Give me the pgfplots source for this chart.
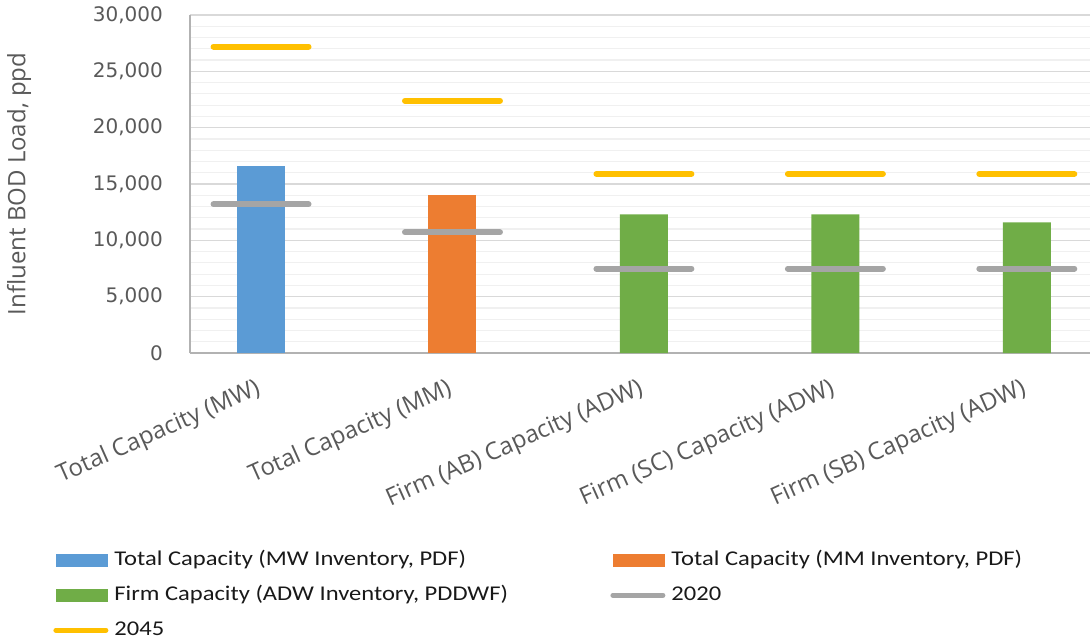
\documentclass[border=0pt]{standalone}
\usepackage{fontspec}
\setmainfont{Open Sans}
\newfontfamily\legfont[FakeStretch=1.17]{Carlito}
\newfontfamily\tickfont{DejaVu Sans}
\usepackage{pgfplots}
\pgfplotsset{compat=1.18}
\definecolor{cBlue}{HTML}{5B9BD5}
\definecolor{cOrange}{HTML}{ED7D31}
\definecolor{cGreen}{HTML}{70AD47}
\definecolor{cGray}{HTML}{A5A5A5}
\definecolor{cGold}{HTML}{FFC000}
\definecolor{txt}{HTML}{595959}

\begin{document}
\begin{tikzpicture}
\begin{axis}[
    scale only axis, width=900pt, height=338pt,
    xmin=-0.371, xmax=4.33, ymin=0, ymax=30000,
    axis x line*=bottom, axis y line*=left,
    axis line style={-, draw=black!30, line width=1.2pt},
    ytick={0,5000,...,30000}, minor y tick num=4,
    scaled y ticks=false,
    ymajorgrids, yminorgrids,
    major grid style={draw=black!15, line width=1.2pt},
    minor grid style={draw=black!6, line width=1.2pt},
    major tick length=0pt, minor tick length=0pt,
    xtick={0,1,2,3,4},
    xticklabels={Total Capacity (MW), Total Capacity (MM), Firm (AB) Capacity (ADW), Firm (SC) Capacity (ADW), Firm (SB) Capacity (ADW)},
    x tick label style={rotate=24, anchor=north east, inner sep=0pt, yshift=-19pt, xshift=-16pt,
        font=\fontsize{24}{24}\selectfont, text=txt},
    y tick label style={inner sep=0pt, xshift=-27pt, font=\tickfont\fontsize{20}{20}\selectfont, text=txt},
    /pgf/number format/.cd, 1000 sep={,}, assume math mode=true, /pgfplots/.cd,
    ylabel={Influent BOD Load, ppd},
    ylabel style={at={(axis description cs:-0.19,0.5)}, anchor=center, rotate=0,
        font=\fontsize{24}{24}\selectfont, text=txt},
    unbounded coords=jump,
    legend columns=2,
    legend cell align=left,
    legend style={at={(axis description cs:-0.152,-0.586)}, anchor=north west,
        draw=none, fill=none, inner sep=0pt,
        font=\legfont\fontsize{21}{21}\selectfont, text=black!90,
        nodes={inner sep=0pt, text height=14pt, text depth=4pt},
        row sep=17pt, column sep=6pt},
]
% bars
\addplot[ybar, bar shift=0pt, bar width=48pt, fill=cBlue, draw=none, area legend,
    legend image code/.code={\fill[cBlue] (0pt,-6.5pt) rectangle (52pt,6.5pt);}]
    coordinates {(0,16600)};
\addlegendentry{\makebox[490pt][l]{Total Capacity (MW Inventory, PDF)}}
\addplot[ybar, bar shift=0pt, bar width=48pt, fill=cOrange, draw=none, area legend,
    legend image code/.code={\fill[cOrange] (0pt,-6.5pt) rectangle (52pt,6.5pt);}]
    coordinates {(1,14000)};
\addlegendentry{Total Capacity (MM Inventory, PDF)}
\addplot[ybar, bar shift=0pt, bar width=48pt, fill=cGreen, draw=none, area legend,
    legend image code/.code={\fill[cGreen] (0pt,-6.5pt) rectangle (52pt,6.5pt);}]
    coordinates {(2,12300) (3,12300) (4,11600)};
\addlegendentry{\makebox[490pt][l]{Firm Capacity (ADW Inventory, PDDWF)}}
% 2020 projections
\addplot[cGray, line width=6pt, line cap=round, no markers,
    legend image code/.code={\draw[cGray, line width=5pt, line cap=round] (0pt,0pt) -- (50pt,0pt);}]
    coordinates {(-0.248,13200) (0.248,13200) (0.5,nan)
                 (0.752,10700) (1.248,10700) (1.5,nan)
                 (1.752,7500) (2.248,7500) (2.5,nan)
                 (2.752,7500) (3.248,7500) (3.5,nan)
                 (3.752,7500) (4.248,7500)};
\addlegendentry{2020}
% 2045 projections
\addplot[cGold, line width=6pt, line cap=round, no markers,
    legend image code/.code={\draw[cGold, line width=5pt, line cap=round] (0pt,0pt) -- (50pt,0pt);}]
    coordinates {(-0.248,27200) (0.248,27200) (0.5,nan)
                 (0.752,22400) (1.248,22400) (1.5,nan)
                 (1.752,15900) (2.248,15900) (2.5,nan)
                 (2.752,15900) (3.248,15900) (3.5,nan)
                 (3.752,15900) (4.248,15900)};
\addlegendentry{2045}
\end{axis}
\pgfresetboundingbox
\path[use as bounding box] ([shift={(-190pt,-287pt)}]current axis.south west) rectangle ++(1091pt,640pt);
\end{tikzpicture}
\end{document}
